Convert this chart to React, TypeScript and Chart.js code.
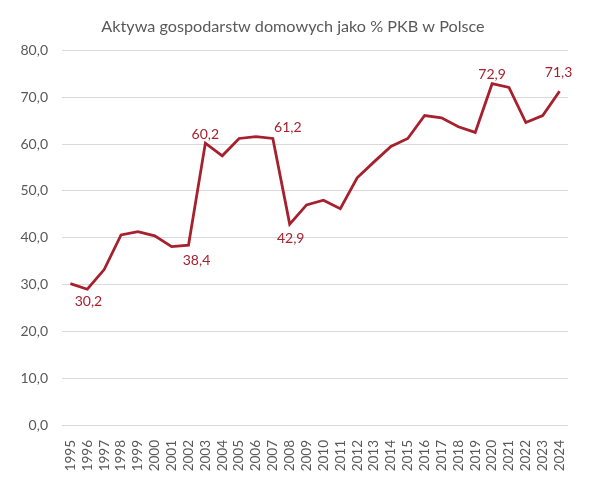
import React, { useEffect, useRef } from 'react';
import { Chart, registerables } from 'chart.js';

Chart.register(...registerables);

const years = [
  '1995', '1996', '1997', '1998', '1999', '2000', '2001', '2002', '2003', '2004',
  '2005', '2006', '2007', '2008', '2009', '2010', '2011', '2012', '2013', '2014',
  '2015', '2016', '2017', '2018', '2019', '2020', '2021', '2022', '2023', '2024',
];

const assetsPctGdp = [
  30.2, 29.0, 33.2, 40.6, 41.3, 40.4, 38.1, 38.4, 60.2, 57.5,
  61.2, 61.6, 61.2, 42.9, 47.0, 48.0, 46.2, 52.8, 56.2, 59.5,
  61.2, 66.1, 65.6, 63.7, 62.5, 72.9, 72.1, 64.6, 66.1, 71.3,
];

const yTicks = [0, 10, 20, 30, 40, 50, 60, 70, 80];

// which points get a value label, and where it sits relative to the point
const labelledPoints = [
  { index: 0, dx: 18, dy: 18 },
  { index: 7, dx: 8, dy: 15 },
  { index: 8, dx: 0, dy: -9 },
  { index: 12, dx: 15, dy: -11 },
  { index: 13, dx: 1, dy: 14 },
  { index: 25, dx: 0, dy: -9 },
  { index: 29, dx: -1, dy: -19 },
];

const RED = '#A6202D';
const GREY_TEXT = '#595959';
const FONT = "Lato, 'Open Sans', sans-serif";

const fmt = (v: number) => v.toFixed(1).replace('.', ',');

const pointLabels = {
  id: 'pointLabels',
  afterDatasetsDraw(chart: Chart) {
    const ctx = chart.ctx;
    const meta = chart.getDatasetMeta(0);
    ctx.save();
    ctx.font = `14px ${FONT}`;
    ctx.fillStyle = RED;
    ctx.textAlign = 'center';
    ctx.textBaseline = 'middle';
    labelledPoints.forEach(({ index, dx, dy }) => {
      const pt = meta.data[index];
      if (!pt) return;
      ctx.fillText(fmt(assetsPctGdp[index]), pt.x + dx, pt.y + dy);
    });
    ctx.restore();
  },
};

const App: React.FC = () => {
  const canvasRef = useRef<HTMLCanvasElement | null>(null);
  const chartRef = useRef<Chart | null>(null);

  useEffect(() => {
    document.body.style.margin = '0';
    if (!canvasRef.current) return;
    if (chartRef.current) chartRef.current.destroy();

    chartRef.current = new Chart(canvasRef.current, {
      type: 'line',
      data: {
        labels: years,
        datasets: [
          {
            label: 'Aktywa gospodarstw domowych jako % PKB',
            data: assetsPctGdp,
            borderColor: RED,
            borderWidth: 2.8,
            pointRadius: 0,
            tension: 0,
            fill: false,
          },
        ],
      },
      options: {
        animation: false,
        responsive: false,
        maintainAspectRatio: false,
        layout: { padding: { top: 8, right: 28, left: 18, bottom: 0 } },
        scales: {
          x: {
            offset: true,
            grid: { display: false },
            border: { display: false },
            ticks: {
              minRotation: 90,
              maxRotation: 90,
              autoSkip: false,
              color: GREY_TEXT,
              padding: 7,
              font: { family: FONT, size: 13.5 },
            },
            afterFit: (scale: any) => {
              scale.height = 55;
            },
          },
          y: {
            min: 0,
            max: 80,
            afterBuildTicks: (scale: any) => {
              scale.ticks = yTicks.map((v) => ({ value: v }));
            },
            grid: { color: '#D9D9D9', lineWidth: 1, drawTicks: false },
            border: { display: false },
            ticks: {
              color: GREY_TEXT,
              padding: 14,
              font: { family: FONT, size: 14 },
              callback: (v: any) => fmt(Number(v)),
            },
            afterFit: (scale: any) => {
              scale.width = 44;
            },
          },
        },
        plugins: {
          legend: { display: false },
          tooltip: { enabled: false },
          title: {
            display: true,
            text: 'Aktywa gospodarstw domowych jako % PKB w Polsce',
            color: GREY_TEXT,
            font: { family: FONT, size: 16.2, weight: 'normal' },
            padding: { top: 9, bottom: 14 },
          },
        },
      },
      plugins: [pointLabels],
    });

    return () => {
      if (chartRef.current) {
        chartRef.current.destroy();
        chartRef.current = null;
      }
    };
  }, []);

  return (
    <div style={{ width: 596, height: 480, background: '#fff' }}>
      <canvas ref={canvasRef} width={596} height={480} />
    </div>
  );
};

export default App;
